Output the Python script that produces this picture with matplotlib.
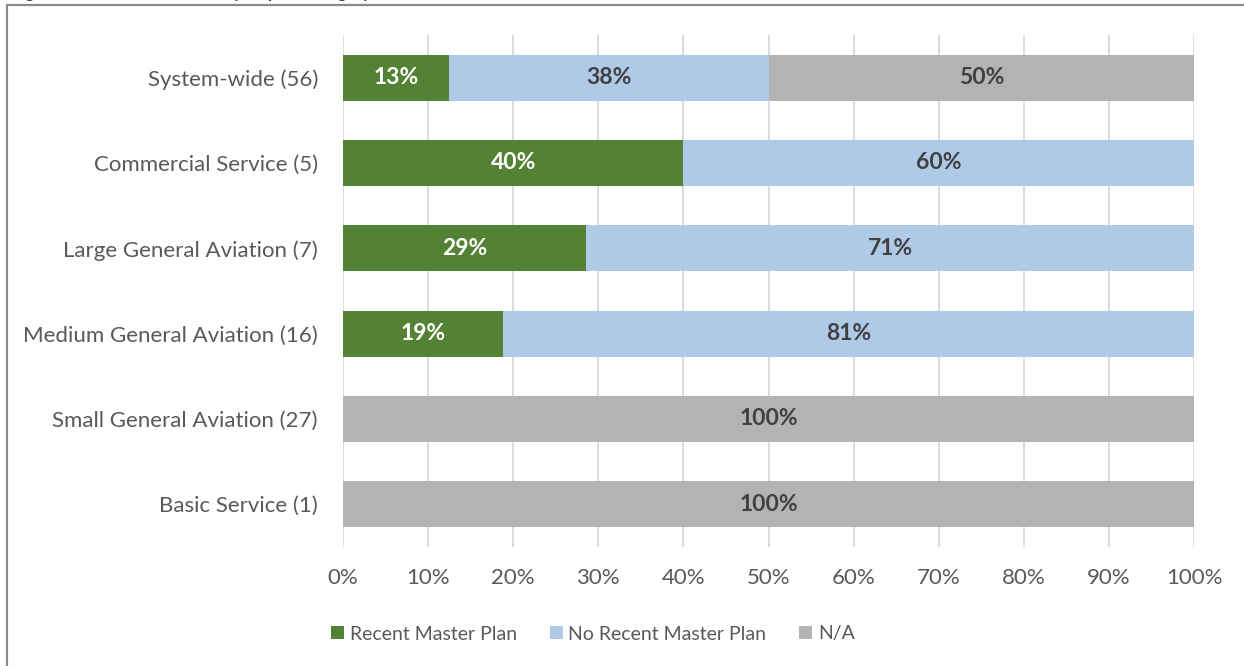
import numpy as np
import matplotlib.pyplot as plt
from matplotlib.patches import Rectangle

plt.rcParams['font.family'] = ['Lato', 'DejaVu Sans']

categories = ['System-wide (56)', 'Commercial Service (5)', 'Large General Aviation (7)',
              'Medium General Aviation (16)', 'Small General Aviation (27)', 'Basic Service (1)']
# airport counts per category
recent = np.array([7, 2, 2, 3, 0, 0])
no_recent = np.array([21, 3, 5, 13, 0, 0])
not_applicable = np.array([28, 0, 0, 0, 27, 1])
series_names = ['Recent Master Plan', 'No Recent Master Plan', 'N/A']
colors = ['#548235', '#AFCAE7', '#B3B3B3']
label_colors = ['white', '#404040', '#404040']

totals = recent + no_recent + not_applicable
shares = [recent / totals * 100, no_recent / totals * 100, not_applicable / totals * 100]

fig = plt.figure(figsize=(12.44, 6.66), dpi=100)
ax = fig.add_axes([343 / 1244, 1 - 547 / 666, 851 / 1244, 512 / 666])

# outer frame, runs off the right and bottom edges
fig.patches.append(Rectangle((7 / 1244, -0.1), 1.2, 1 - 5 / 666 + 0.1, transform=fig.transFigure,
                             fill=False, edgecolor='#8A8A8A', linewidth=1.6))
# caption above the frame, mostly cropped
fig.text(12 / 1244, 1 + 2 / 666, 'Figure 9: Master Plan Status by Airport Category', fontsize=12,
         fontweight='bold', color='#404040', va='baseline', ha='left')

y = np.arange(len(categories))
left = np.zeros(len(categories))
for vals, name, col, lcol in zip(shares, series_names, colors, label_colors):
    ax.barh(y, vals, left=left, height=0.54, color=col, label=name, zorder=2)
    for yi, l, v in zip(y, left, vals):
        if v > 0:
            ax.text(l + v / 2, yi, f'{int(v + 0.5)}%', ha='center', va='center',
                    color=lcol, fontsize=16.5, fontweight='bold', zorder=3)
    left = left + vals

ax.set_xlim(0, 100)
ax.set_ylim(len(categories) - 0.5, -0.5)
ax.set_xticks(np.arange(0, 101, 10))
ax.set_xticklabels([f'{t}%' for t in range(0, 101, 10)])
ax.set_yticks(y)
ax.set_yticklabels(categories)
ax.grid(axis='x', color='#D9D9D9', linewidth=1.3, zorder=0)
for s in ax.spines.values():
    s.set_visible(False)
ax.tick_params(axis='both', length=0, labelsize=16, labelcolor='#595959')
ax.tick_params(axis='x', pad=15)
ax.tick_params(axis='y', pad=18)

fig.legend(loc='center', bbox_to_anchor=(593 / 1244, 1 - 634 / 666), ncol=3, frameon=False,
           fontsize=14, labelcolor='#595959', handlelength=0.65, handleheight=0.65,
           handletextpad=0.3, columnspacing=1.7)

fig.savefig('out.png', dpi=100)
